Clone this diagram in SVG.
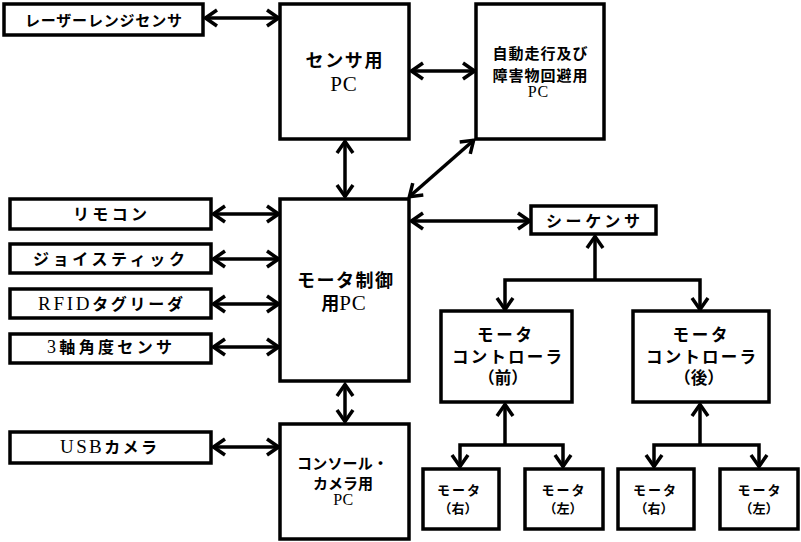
<svg xmlns="http://www.w3.org/2000/svg" width="801" height="542" viewBox="0 0 801 542">
<style>
.box{fill:#fff;stroke:#000;stroke-width:3.5}
.t{font-family:"Noto Sans CJK JP","Liberation Sans",sans-serif;font-weight:bold;fill:#000;text-anchor:middle}
.s{font-family:"Liberation Serif","Noto Sans CJK JP",serif;font-weight:normal}
.c{fill:none;stroke:#000;stroke-width:3.5}
.a{marker-start:url(#ah);marker-end:url(#ah)}
.e{marker-end:url(#ah)}
</style>
<defs>
<marker id="ah" markerUnits="userSpaceOnUse" markerWidth="16" markerHeight="20" viewBox="0 0 16 20" refX="14" refY="10" orient="auto-start-reverse">
<path d="M2,2 L13.5,10 L2,18" fill="none" stroke="#000" stroke-width="3.5" stroke-linejoin="miter"/>
</marker>
</defs>
<g id="connectors">
<line class="c a" x1="205" y1="18" x2="279" y2="18"/>
<line class="c a" x1="411" y1="71" x2="475" y2="71"/>
<line class="c a" x1="345" y1="141" x2="345" y2="197"/>
<line class="c a" x1="409" y1="197" x2="474" y2="140"/>
<line class="c a" x1="213" y1="214" x2="279" y2="214"/>
<line class="c a" x1="213" y1="259" x2="279" y2="259"/>
<line class="c a" x1="213" y1="304" x2="279" y2="304"/>
<line class="c a" x1="213" y1="347" x2="279" y2="347"/>
<line class="c a" x1="411" y1="221" x2="530" y2="221"/>
<line class="c a" x1="345" y1="384" x2="345" y2="422"/>
<line class="c a" x1="213" y1="447" x2="279" y2="447"/>
<line class="c e" x1="595" y1="280" x2="595" y2="236"/>
<polyline class="c a" points="505,310 505,280 700,280 700,310"/>
<line class="c e" x1="505" y1="445" x2="505" y2="404"/>
<polyline class="c a" points="460,467 460,445 563,445 563,467"/>
<line class="c e" x1="700" y1="445" x2="700" y2="404"/>
<polyline class="c a" points="654,467 654,445 759,445 759,467"/>
</g>
<g id="laser"><rect class="box" x="4" y="4" width="199" height="31"/><text class="t" x="103.5" y="26" font-size="15" textLength="157" lengthAdjust="spacing">レーザーレンジセンサ</text></g>
<g id="sensorpc"><rect class="box" x="280" y="4" width="129" height="135"/><text class="t" x="344" y="67" font-size="18" textLength="77" lengthAdjust="spacing">センサ用</text><text class="t s" x="344" y="91" font-size="21" letter-spacing="1">PC</text></g>
<g id="autopc"><rect class="box" x="476" y="4" width="128" height="135"/><text class="t" x="540" y="59" font-size="15" textLength="95" lengthAdjust="spacing">自動走行及び</text><text class="t" x="540" y="81" font-size="15" textLength="95" lengthAdjust="spacing">障害物回避用</text><text class="t s" x="538.5" y="97" font-size="16" letter-spacing="1">PC</text></g>
<g id="remote"><rect class="box" x="10" y="199" width="201" height="30"/><text class="t" x="110" y="220" font-size="16" textLength="74" lengthAdjust="spacing">リモコン</text></g>
<g id="joystick"><rect class="box" x="10" y="244" width="201" height="29"/><text class="t" x="109" y="265" font-size="16" textLength="152" lengthAdjust="spacing">ジョイスティック</text></g>
<g id="rfid"><rect class="box" x="10" y="289" width="201" height="29"/><text class="t" x="110.5" y="310" font-size="16" textLength="145" lengthAdjust="spacing"><tspan class="s" font-size="19">RFID</tspan>タグリーダ</text></g>
<g id="gyro"><rect class="box" x="10" y="334" width="201" height="29"/><text class="t" x="109.5" y="353" font-size="16" textLength="125" lengthAdjust="spacing"><tspan class="s" font-size="18">3</tspan>軸角度センサ</text></g>
<g id="motorpc"><rect class="box" x="280" y="199" width="129" height="182"/><text class="t" x="345" y="287" font-size="18" textLength="96" lengthAdjust="spacing">モータ制御</text><text class="t" x="344" y="310" font-size="18">用<tspan class="s" font-size="21" letter-spacing="1">PC</tspan></text></g>
<g id="sequencer"><rect class="box" x="531" y="206" width="125" height="28"/><text class="t" x="593" y="227" font-size="16" textLength="94" lengthAdjust="spacing">シーケンサ</text></g>
<g id="usbcam"><rect class="box" x="10" y="432" width="201" height="31"/><text class="t" x="108.5" y="453" font-size="16" textLength="97" lengthAdjust="spacing"><tspan class="s" font-size="19">USB</tspan>カメラ</text></g>
<g id="consolepc"><rect class="box" x="280" y="424" width="129" height="115"/><text class="t" x="342.5" y="469" font-size="15" textLength="91" lengthAdjust="spacing">コンソール・</text><text class="t" x="343" y="489" font-size="15" textLength="60" lengthAdjust="spacing">カメラ用</text><text class="t s" x="343.5" y="505" font-size="16" letter-spacing="0.5">PC</text></g>
<g id="mcfront"><rect class="box" x="441" y="311" width="131" height="91"/><text class="t" x="504.5" y="341" font-size="16.5" textLength="55" lengthAdjust="spacing">モータ</text><text class="t" x="507" y="363" font-size="16.5" textLength="110" lengthAdjust="spacing">コントローラ</text><text class="t" x="503" y="384" font-size="16.5">（前）</text></g>
<g id="mcrear"><rect class="box" x="633" y="311" width="136" height="91"/><text class="t" x="700" y="341" font-size="16.5" textLength="55" lengthAdjust="spacing">モータ</text><text class="t" x="701" y="363" font-size="16.5" textLength="110" lengthAdjust="spacing">コントローラ</text><text class="t" x="699" y="384" font-size="16.5">（後）</text></g>
<g id="m1"><rect class="box" x="423" y="469" width="76" height="60"/><text class="t" x="458.5" y="495" font-size="13" textLength="43" lengthAdjust="spacing">モータ</text><text class="t" x="458" y="513" font-size="13">（右）</text></g>
<g id="m2"><rect class="box" x="525" y="469" width="78" height="60"/><text class="t" x="563" y="495" font-size="13" textLength="43" lengthAdjust="spacing">モータ</text><text class="t" x="563" y="513" font-size="13">（左）</text></g>
<g id="m3"><rect class="box" x="618" y="469" width="76" height="60"/><text class="t" x="654.5" y="495" font-size="13" textLength="43" lengthAdjust="spacing">モータ</text><text class="t" x="654" y="513" font-size="13">（右）</text></g>
<g id="m4"><rect class="box" x="720" y="469" width="78" height="60"/><text class="t" x="759" y="495" font-size="13" textLength="43" lengthAdjust="spacing">モータ</text><text class="t" x="759" y="513" font-size="13">（左）</text></g>
</svg>
